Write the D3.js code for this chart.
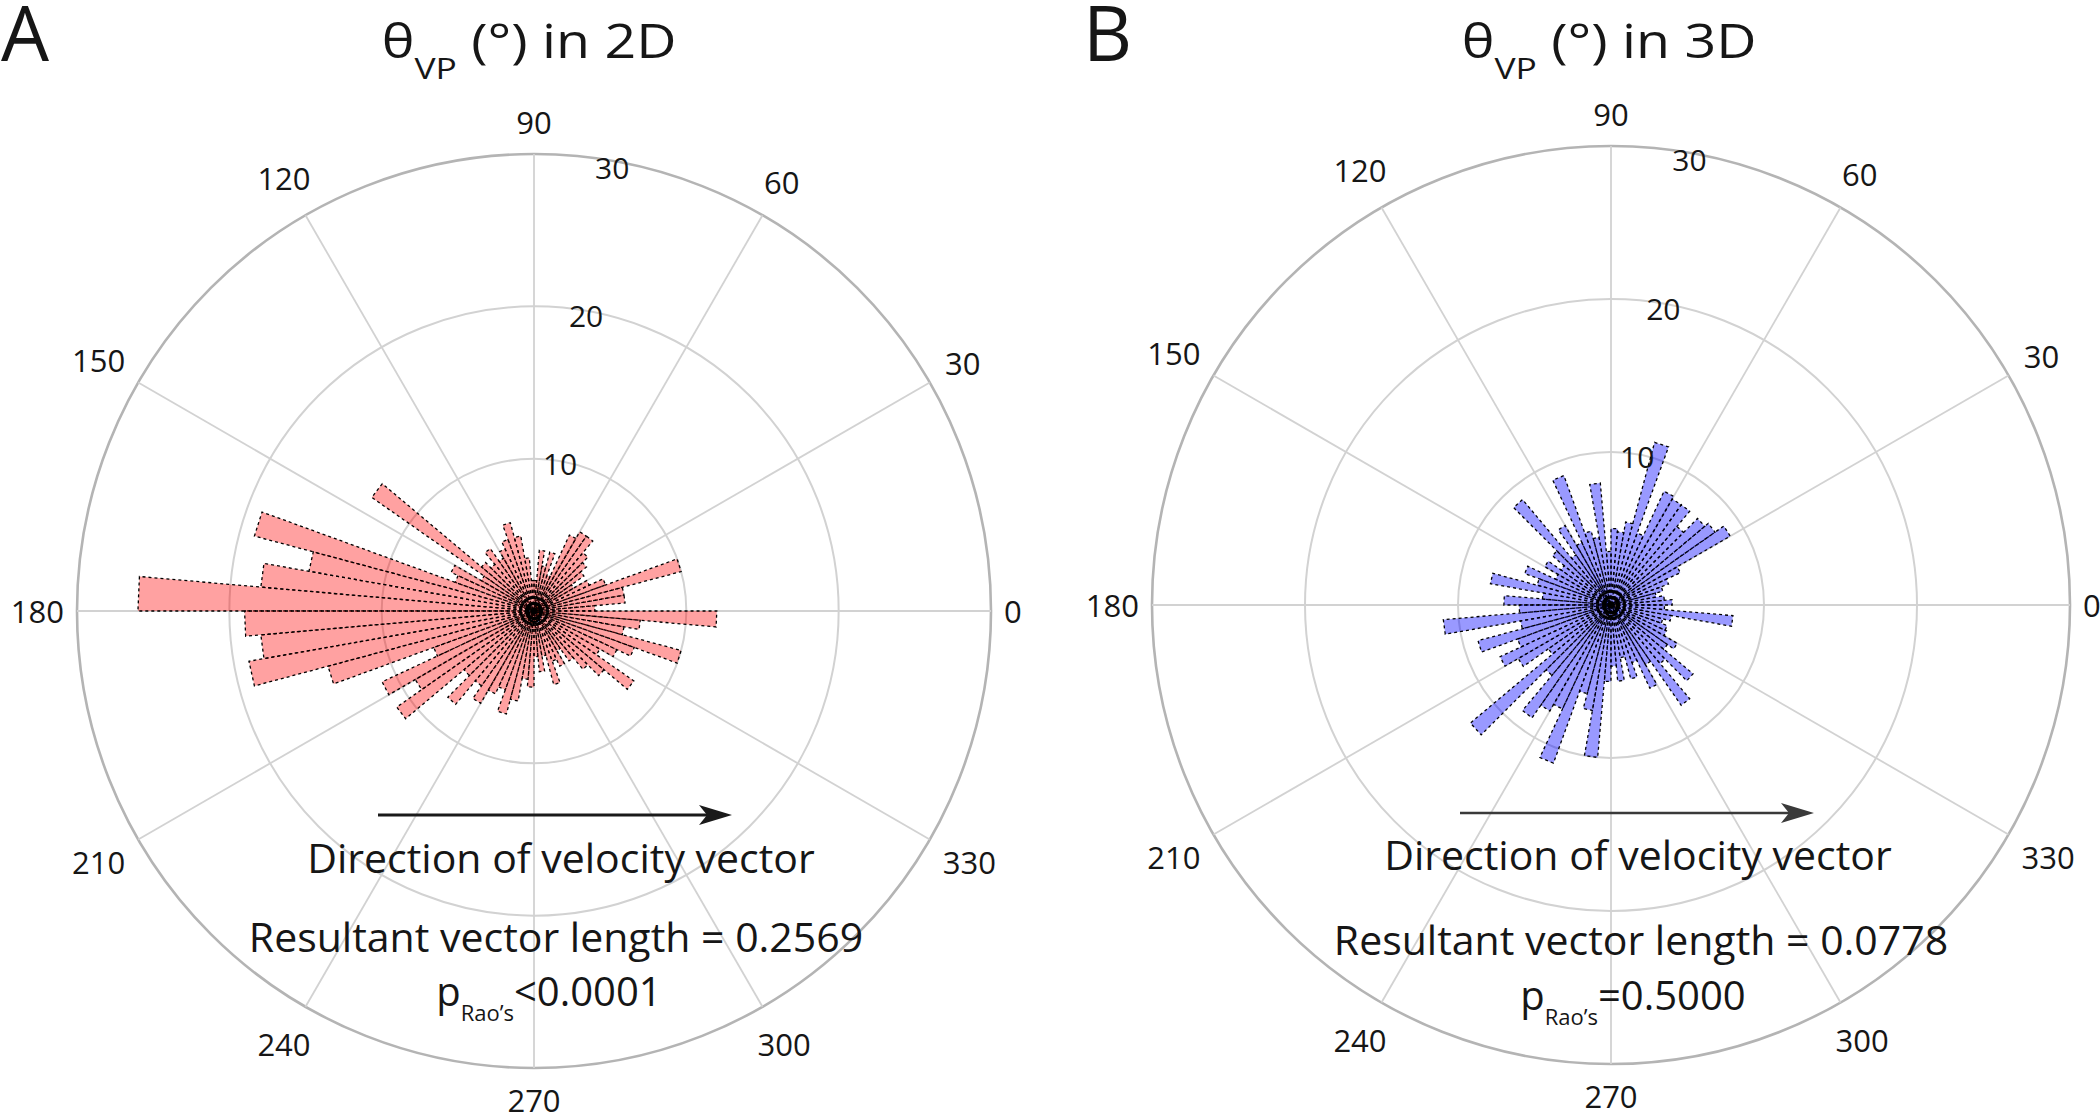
<!DOCTYPE html>
<html>
<head>
<meta charset="utf-8">
<script src="https://cdn.jsdelivr.net/npm/d3@7"></script>
<style>
  body { margin: 0; background: #ffffff; }
  svg { display: block; }
  text { font-family: "Open Sans", "Noto Sans", sans-serif; fill: #161616; }
</style>
</head>
<body>
<svg id="chart" width="2100" height="1120"></svg>
<script>
// ---------------- DATA ----------------
// Bin start angles (degrees, counter-clockwise from 0 = east), 5° wide bins
const binStarts = d3.range(0, 360, 5);
const binWidth = 5;

// Panel A: θVP in 2D — counts per 5° bin (starting at 0°)
const counts2D = [
  4, 6, 6, 10, 5, 4, 3, 4, 4.5, 5,        // 0–50
  6, 6, 5.5, 2.5, 4, 3, 4, 2, 2, 3.5,     // 50–100
  5, 6, 5, 4.5, 4, 5, 4, 4.5, 13, 4,      // 100–150
  6, 5.5, 19, 15, 18, 26, 19, 18, 19, 14, // 150–200
  7, 11, 9, 11, 6, 8, 6, 7, 6, 5.5,       // 200–250
  7, 6, 4.5, 5, 3, 4, 3, 5, 3.5, 4,       // 250–300
  3, 4, 5, 6, 8, 5, 6, 7, 10, 6,          // 300–350
  7, 12                                   // 350–360
];

// Panel B: θVP in 3D — counts per 5° bin (starting at 0°)
const counts3D = [
  4, 3.5, 3, 3.5, 4, 5, 9, 8.3, 8, 6.7,   // 0–50
  8, 8, 8.2, 5, 11, 5.5, 4.8, 5, 3.5, 8,  // 50–100
  4.5, 5, 9, 4.5, 6, 4, 9, 5, 4, 5,       // 100–150
  4, 6, 5, 8, 4.5, 7, 6, 11, 6, 9,        // 150–200
  6.5, 8, 7, 5, 12, 6, 9, 8, 7.5, 11,     // 200–250
  6, 7, 10, 5, 4, 5, 3.5, 5, 4, 6,        // 250–300
  4.5, 8, 5, 7, 4.5, 5, 4, 3.9, 3.5, 4,   // 300–350
  8, 3.5                                  // 350–360
];

const angleTicks = [0, 30, 60, 90, 120, 150, 180, 210, 240, 270, 300, 330];
const radialTicks = [10, 20, 30];
const radialMax = 30;

const panelLetters = ["A", "B"];
const titleSuffixes = [" (°) in 2D", " (°)  in 3D"];
const resultantTexts = ["Resultant vector length = 0.2569", "Resultant vector length = 0.0778"];
const pValueTexts = ["<0.0001", "=0.5000"];
const directionText = "Direction of velocity vector";

// ---------------- DRAWING ----------------
const svg = d3.select("#chart");

const panels = [
  { counts: counts2D, cx: 534, cy: 611, R: 457, fill: "#ff0000", fillOpacity: 0.37,
    letterX: 1, titleX: 529,
    arrow: { x1: 378, x2: 732, y: 815, color: "#1a1a1a", w: 3 },
    dirX: 561, dirY: 873, resX: 556, resY: 952, pX: 549, pY: 1006 },
  { counts: counts3D, cx: 1611, cy: 605, R: 459, fill: "#0000ff", fillOpacity: 0.40,
    letterX: 1083, titleX: 1609,
    arrow: { x1: 1460, x2: 1814, y: 813, color: "#3a3a3a", w: 2.5 },
    dirX: 1638, dirY: 870, resX: 1641, resY: 955, pX: 1633, pY: 1010 }
];

panels.forEach((p, i) => {
  const rScale = d3.scaleLinear().domain([0, radialMax]).range([0, p.R]);
  // radial-line angle: 0 at top, clockwise; data angle: 0 at east, counter-clockwise
  const aScale = d3.scaleLinear().domain([0, 360]).range([Math.PI / 2, Math.PI / 2 - 2 * Math.PI]);
  const px = (deg, r) => rScale(r) * Math.sin(aScale(deg));
  const py = (deg, r) => -rScale(r) * Math.cos(aScale(deg));

  const g = svg.append("g").attr("transform", `translate(${p.cx},${p.cy})`);

  // grid circles
  g.selectAll("circle.grid").data(radialTicks).join("circle")
    .attr("class", "grid")
    .attr("r", d => rScale(d))
    .attr("fill", "none")
    .attr("stroke", d => d === radialMax ? "#b4b4b4" : "#d2d2d2")
    .attr("stroke-width", d => d === radialMax ? 2.6 : 2);

  // spokes
  g.selectAll("line.spoke").data(angleTicks).join("line")
    .attr("class", "spoke")
    .attr("x1", 0).attr("y1", 0)
    .attr("x2", d => px(d, radialMax)).attr("y2", d => py(d, radialMax))
    .attr("stroke", "#d2d2d2").attr("stroke-width", 1.8);

  // bars (rose wedges)
  const wedge = d3.lineRadial()
    .angle(d => d.a).radius(d => d.r)
    .curve(d3.curveLinearClosed);
  const bins = binStarts.map((s, k) => ({ start: s, end: s + binWidth, value: p.counts[k] }));
  g.selectAll("path.bar").data(bins).join("path")
    .attr("class", "bar")
    .attr("d", d => wedge([
      { a: 0, r: 0 },
      { a: aScale(d.start), r: rScale(d.value) },
      { a: aScale(d.end), r: rScale(d.value) }
    ]))
    .attr("fill", p.fill)
    .attr("fill-opacity", p.fillOpacity)
    .attr("stroke", "#000")
    .attr("stroke-width", 1.3)
    .attr("stroke-dasharray", "3,3");

  // radial tick labels (at 80°)
  g.selectAll("text.rtick").data(radialTicks).join("text")
    .attr("class", "rtick")
    .attr("x", d => px(80, d) * 0.985)
    .attr("y", d => py(80, d) * 0.985)
    .attr("text-anchor", "middle")
    .attr("dominant-baseline", "central")
    .attr("font-size", 30)
    .text(d => d);

  // center "0"
  g.append("text")
    .attr("x", 0).attr("y", 0)
    .attr("text-anchor", "middle").attr("dominant-baseline", "central")
    .attr("font-size", 30).style("fill", "#000")
    .text("0");

  // angle labels
  const fs = 31;
  const lab = g.selectAll("text.alabel").data(angleTicks).join("text")
    .attr("class", "alabel")
    .attr("text-anchor", "middle")
    .attr("dominant-baseline", "central")
    .attr("font-size", fs)
    .text(d => d);
  lab.each(function (d) {
    const w = this.getComputedTextLength();
    const h = fs * 1.25;
    const rad = d * Math.PI / 180;
    const rr = p.R + 13 + Math.abs(Math.cos(rad)) * w / 2 + Math.abs(Math.sin(rad)) * h / 2;
    d3.select(this)
      .attr("x", rr * Math.cos(rad))
      .attr("y", -rr * Math.sin(rad));
  });

  // panel letter
  svg.append("text")
    .attr("x", p.letterX).attr("y", 61)
    .attr("font-size", 76)
    .text(panelLetters[i]);

  // title (slightly widened to match the reference lettering)
  const tg = svg.append("g").attr("transform", `translate(${p.titleX},58) scale(1.18,1)`);
  const t = tg.append("text")
    .attr("x", 0).attr("y", 0)
    .attr("text-anchor", "middle")
    .attr("font-size", 47);
  t.append("tspan").text("θ");
  t.append("tspan").attr("font-size", 30).attr("dy", 21).text("VP");
  t.append("tspan").attr("dy", -21).text(titleSuffixes[i]);

  // arrow
  const a = p.arrow;
  svg.append("line")
    .attr("x1", a.x1).attr("x2", a.x2 - 20)
    .attr("y1", a.y).attr("y2", a.y)
    .attr("stroke", a.color).attr("stroke-width", a.w);
  svg.append("path")
    .attr("d", `M${a.x2},${a.y} L${a.x2 - 33},${a.y - 10} L${a.x2 - 25},${a.y} L${a.x2 - 33},${a.y + 10} Z`)
    .attr("fill", a.color);

  // annotation texts
  svg.append("text")
    .attr("x", p.dirX).attr("y", p.dirY)
    .attr("text-anchor", "middle").attr("font-size", 41)
    .text(directionText);
  svg.append("text")
    .attr("x", p.resX).attr("y", p.resY)
    .attr("text-anchor", "middle").attr("font-size", 41)
    .text(resultantTexts[i]);
  const pt = svg.append("text")
    .attr("x", p.pX).attr("y", p.pY)
    .attr("text-anchor", "middle").attr("font-size", 40);
  pt.append("tspan").text("p");
  pt.append("tspan").attr("font-size", 22).attr("dy", 15).text("Rao’s");
  pt.append("tspan").attr("dy", -15).text(pValueTexts[i]);
});
</script>
</body>
</html>
